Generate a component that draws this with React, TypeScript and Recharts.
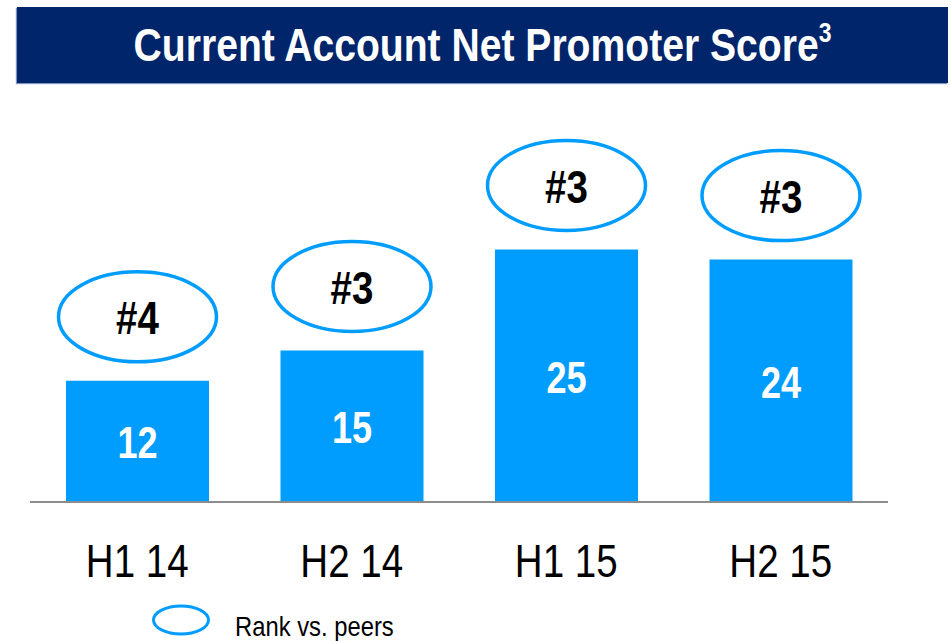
import { BarChart, Bar, XAxis, YAxis, LabelList } from 'recharts';

// Current account NPS by half-year, with rank vs. peers
const periods = ['H1 14', 'H2 14', 'H1 15', 'H2 15'];
const npsScores = [12, 15, 25, 24];
const peerRanks = ['#4', '#3', '#3', '#3'];

const data = periods.map((period, i) => ({
  period,
  nps: npsScores[i],
  rank: peerRanks[i],
}));

// no narrow font installed, so squeeze Liberation Sans horizontally
const FONT = '"Liberation Sans", Arial, sans-serif';
const SQUEEZE = 0.82;
const BAR_BLUE = '#009dff';
const NAVY = '#00256a';

const NarrowText = ({ x, y, children, ...rest }: any) => (
  <text transform={`translate(${x},${y}) scale(${SQUEEZE},1)`} textAnchor="middle" fontFamily={FONT} {...rest}>
    {children}
  </text>
);

const PeriodTick = (props: any) => {
  const { x, y, payload } = props;
  return (
    <NarrowText x={x} y={y + 75} fill="#000" fontSize={47}>
      {payload.value}
    </NarrowText>
  );
};

const ValueLabel = (props: any) => {
  const { x, y, width, height, value } = props;
  return (
    <NarrowText x={x + width / 2} y={y + height / 2 + 17} fill="#fff" fontWeight="bold" fontSize={44}>
      {value}
    </NarrowText>
  );
};

const RankBubble = (props: any) => {
  const { x, y, width, value } = props;
  const cx = x + width / 2;
  const cy = y - 64;
  return (
    <g>
      <ellipse cx={cx} cy={cy} rx={79} ry={45} fill="#fff" stroke={BAR_BLUE} strokeWidth={3.5} />
      <NarrowText x={cx} y={cy + 17} fill="#000" fontWeight="bold" fontSize={47}>
        {value}
      </NarrowText>
    </g>
  );
};

export default function App() {
  return (
    <div style={{ position: 'absolute', left: 0, top: 0, width: 951, height: 641, background: '#fff' }}>
      <div
        style={{
          position: 'absolute',
          left: 17,
          top: 7,
          width: 931,
          height: 76,
          background: NAVY,
          boxShadow: '-1px 1px 1px #7f93c0',
          color: '#fff',
          fontFamily: FONT,
          fontWeight: 'bold',
          fontSize: 46,
          display: 'flex',
          alignItems: 'center',
          justifyContent: 'center',
        }}
      >
        <span style={{ display: 'inline-block', transform: 'scaleX(0.85)', whiteSpace: 'nowrap' }}>
          Current Account Net Promoter Score
          <sup style={{ fontSize: 27, verticalAlign: 'top', position: 'relative', top: 0 }}>3</sup>
        </span>
      </div>

      <BarChart
        width={951}
        height={641}
        data={data}
        margin={{ top: 148.5, right: 63, bottom: 79, left: 30 }}
      >
        <XAxis
          dataKey="period"
          height={60}
          tickLine={false}
          tickSize={0}
          tickMargin={0}
          axisLine={{ stroke: '#8c8c8c', strokeWidth: 2 }}
          tick={<PeriodTick />}
          interval={0}
        />
        <YAxis hide domain={[0, 35]} />
        <Bar dataKey="nps" fill={BAR_BLUE} barSize={143} isAnimationActive={false}>
          <LabelList dataKey="nps" content={<ValueLabel />} />
          <LabelList dataKey="rank" content={<RankBubble />} />
        </Bar>
      </BarChart>

      {/* legend */}
      <div style={{ position: 'absolute', left: 150, top: 604, display: 'flex', alignItems: 'center' }}>
        <svg width={62} height={34}>
          <ellipse cx={31} cy={16} rx={27.5} ry={14} fill="#fff" stroke={BAR_BLUE} strokeWidth={3} />
        </svg>
        <span
          style={{
            marginLeft: 23,
            fontFamily: FONT,
            fontSize: 28,
            color: '#000',
            display: 'inline-block',
            position: 'relative',
            top: 6,
            transform: 'scaleX(0.85)',
            transformOrigin: 'left center',
            whiteSpace: 'nowrap',
          }}
        >
          Rank vs. peers
        </span>
      </div>
    </div>
  );
}
